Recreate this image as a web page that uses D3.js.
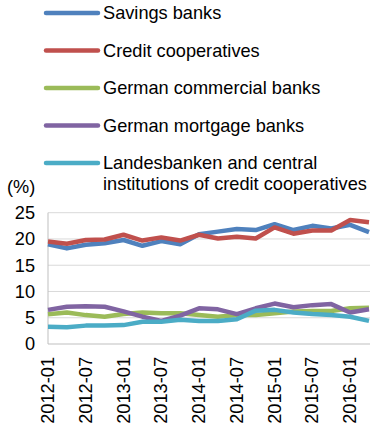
<!DOCTYPE html>
<html><head><meta charset="utf-8">
<script src="https://cdn.jsdelivr.net/npm/d3@7"></script>
<style>body{margin:0;background:#fff}svg{display:block}text{font-family:"Liberation Sans",Arial,sans-serif;fill:#000}</style>
</head><body>
<script>
const categories = ["2012-01","2012-04","2012-07","2012-10","2013-01","2013-04","2013-07","2013-10","2014-01","2014-04","2014-07","2014-10","2015-01","2015-04","2015-07","2015-10","2016-01","2016-04"];
const tickLabels = ["2012-01","2012-07","2013-01","2013-07","2014-01","2014-07","2015-01","2015-07","2016-01"];
const yTicks = [0,5,10,15,20,25];
const seriesNames = ["Savings banks","Credit cooperatives","German commercial banks","German mortgage banks","Landesbanken and central institutions of credit cooperatives"];
const savings = [19.0,18.2,18.9,19.2,19.8,18.7,19.6,19.0,20.9,21.4,21.9,21.7,22.8,21.7,22.5,22.0,22.7,21.3];
const creditCoop = [19.5,19.1,19.8,19.9,20.8,19.7,20.3,19.7,20.8,20.1,20.4,20.1,22.2,21.0,21.6,21.6,23.6,23.2];
const commercial = [5.65,6.0,5.5,5.2,5.7,6.0,5.85,5.85,5.5,5.2,5.5,5.5,5.85,6.2,6.3,6.3,6.8,6.9];
const mortgage = [6.5,7.1,7.2,7.1,6.2,5.2,4.4,5.4,6.8,6.6,5.7,6.8,7.7,7.0,7.4,7.6,6.0,6.6];
const landesbanken = [3.3,3.2,3.5,3.5,3.6,4.25,4.25,4.6,4.4,4.4,4.7,6.35,6.5,6.0,5.7,5.5,5.2,4.4];
const colors = ["#4f81bd","#c0504d","#9bbb59","#8064a2","#4bacc6"];
const seriesData = [savings, creditCoop, commercial, mortgage, landesbanken];

const W=374,H=428;
const svg=d3.select("body").append("svg").attr("width",W).attr("height",H);
const x=d3.scalePoint().domain(categories).range([48,369]);
const y=d3.scaleLinear().domain([0,25]).range([344,212.7]);
const fs=18.2;

// gridlines
svg.append("g").selectAll("line").data(yTicks.filter(d=>d>0)).join("line")
  .attr("x1",48).attr("x2",370).attr("y1",d=>y(d)).attr("y2",d=>y(d))
  .attr("stroke","#d9d9d9").attr("stroke-width",1);
// axes lines
svg.append("line").attr("x1",48).attr("x2",48).attr("y1",y(25)).attr("y2",y(0)).attr("stroke","#bfbfbf");
svg.append("line").attr("x1",48).attr("x2",370).attr("y1",y(0)).attr("y2",y(0)).attr("stroke","#bfbfbf");

// y labels
svg.append("g").selectAll("text").data(yTicks).join("text")
  .attr("x",35).attr("y",d=>y(d)).attr("dy","0.35em").attr("text-anchor","end")
  .attr("font-size",fs).text(d=>d);

// x labels
svg.append("g").selectAll("text").data(tickLabels).join("text")
  .attr("transform",d=>`translate(${x(d)+6},357) rotate(-90)`)
  .attr("text-anchor","end").attr("font-size",fs).text(d=>d);

// lines
const line=d3.line().x((d,i)=>x(categories[i])).y(d=>y(d));
svg.append("g").selectAll("path").data(seriesData).join("path")
  .attr("d",d=>line(d)).attr("fill","none").attr("stroke",(d,i)=>colors[i])
  .attr("stroke-width",4.5).attr("stroke-linejoin","round");

// legend
const leg=svg.append("g");
const rowsY=[13,50.5,88,125.5,163];
seriesNames.forEach((n,i)=>{
  leg.append("line").attr("x1",46).attr("x2",98).attr("y1",rowsY[i]).attr("y2",rowsY[i])
    .attr("stroke",colors[i]).attr("stroke-width",4.5).attr("stroke-linecap","round");
  const t=leg.append("text").attr("x",103).attr("y",rowsY[i]).attr("dy","0.35em").attr("font-size",fs);
  if(i===4){
    t.append("tspan").attr("x",103).text("Landesbanken and central");
    t.append("tspan").attr("x",103).attr("dy","1.12em").text("institutions of credit cooperatives");
  } else t.text(n);
});
svg.append("text").attr("x",7).attr("y",187).attr("dy","0.35em").attr("font-size",fs).text("(%)");
</script>
</body></html>
